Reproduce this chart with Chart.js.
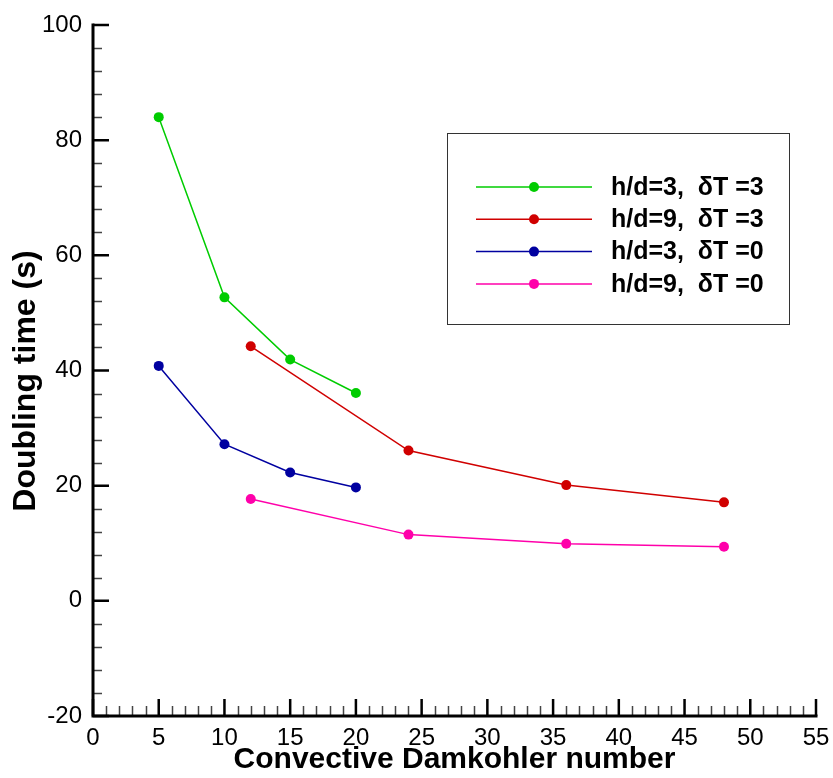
<!DOCTYPE html>
<html lang="en">
<head>
    <meta charset="UTF-8">
    <title>Doubling time vs Convective Damkohler number</title>
    <script src="https://cdn.jsdelivr.net/npm/chart.js"></script>
    <style>
        html, body {
            margin: 0;
            padding: 0;
            background-color: #ffffff;
        }
        #wrap {
            width: 833px;
            height: 778px;
        }
    </style>
</head>
<body>
    <div id="wrap">
        <canvas id="doublingChart" width="833" height="778"></canvas>
    </div>

    <script>
        // values
        const labels = ['h/d=3,  \u03b4T =3', 'h/d=9,  \u03b4T =3', 'h/d=3,  \u03b4T =0', 'h/d=9,  \u03b4T =0'];
        const colors = ['#00cc00', '#d00000', '#0000a0', '#ff00aa'];

        const hd3dT3X = [5, 10, 15, 20];
        const hd3dT3Y = [84.0, 52.7, 41.9, 36.1];
        const hd9dT3X = [12, 24, 36, 48];
        const hd9dT3Y = [44.2, 26.1, 20.1, 17.1];
        const hd3dT0X = [5, 10, 15, 20];
        const hd3dT0Y = [40.8, 27.2, 22.3, 19.7];
        const hd9dT0X = [12, 24, 36, 48];
        const hd9dT0Y = [17.7, 11.5, 9.9, 9.4];

        const xTicks = [0, 5, 10, 15, 20, 25, 30, 35, 40, 45, 50, 55];
        const yTicks = [-20, 0, 20, 40, 60, 80, 100];

        const xs = [hd3dT3X, hd9dT3X, hd3dT0X, hd9dT0X];
        const ys = [hd3dT3Y, hd9dT3Y, hd3dT0Y, hd9dT0Y];

        const datasets = labels.map((label, k) => ({
            label: label,
            data: xs[k].map((x, i) => ({ x: x, y: ys[k][i] })),
            borderColor: colors[k],
            backgroundColor: colors[k],
            pointBackgroundColor: colors[k],
            pointBorderWidth: 0,
            pointRadius: 5,
            borderWidth: 1.5,
            tension: 0,
            fill: false
        }));

        // left/bottom axis lines with inward major + minor ticks
        const axisTicks = {
            id: 'axisTicks',
            afterDraw(chart) {
                const c = chart.ctx;
                const xs = chart.scales.x, ys = chart.scales.y;
                const left = xs.getPixelForValue(xTicks[0]);
                const right = xs.getPixelForValue(xTicks[xTicks.length - 1]);
                const bottom = ys.getPixelForValue(yTicks[0]);
                const top = ys.getPixelForValue(yTicks[yTicks.length - 1]);
                c.save();
                c.lineCap = 'butt';

                // minor ticks
                c.strokeStyle = '#444';
                c.lineWidth = 1.5;
                c.beginPath();
                for (let v = xTicks[0]; v <= xTicks[xTicks.length - 1]; v += 1) {
                    if (v % 5 === 0) continue;
                    const px = Math.round(xs.getPixelForValue(v)) + 0.5;
                    c.moveTo(px, bottom);
                    c.lineTo(px, bottom - 10);
                }
                for (let v = yTicks[0]; v <= yTicks[yTicks.length - 1]; v += 4) {
                    if (v % 20 === 0) continue;
                    const py = Math.round(ys.getPixelForValue(v)) + 0.5;
                    c.moveTo(left, py);
                    c.lineTo(left + 9, py);
                }
                c.stroke();

                // major ticks
                c.strokeStyle = '#000';
                c.lineWidth = 2.5;
                c.beginPath();
                xTicks.forEach(v => {
                    const px = xs.getPixelForValue(v);
                    c.moveTo(px, bottom);
                    c.lineTo(px, bottom - 17);
                });
                yTicks.forEach(v => {
                    const py = ys.getPixelForValue(v);
                    c.moveTo(left, py);
                    c.lineTo(left + 16, py);
                });
                c.stroke();

                // axis lines
                c.lineWidth = 3;
                c.beginPath();
                c.moveTo(left, top - 1.5);
                c.lineTo(left, bottom);
                c.lineTo(right + 1.5, bottom);
                c.stroke();

                // y axis title
                c.translate(26, 381);
                c.rotate(-Math.PI / 2);
                c.fillStyle = '#000';
                c.font = 'bold 32px "Liberation Sans", Arial, sans-serif';
                c.textAlign = 'center';
                c.textBaseline = 'middle';
                c.fillText('Doubling time (s)', 0, 0);
                c.restore();
            }
        };

        // boxed legend inside the plot
        const boxLegend = {
            id: 'boxLegend',
            afterDraw(chart) {
                const c = chart.ctx;
                c.save();
                c.strokeStyle = '#333';
                c.lineWidth = 1;
                c.strokeRect(447.5, 133.5, 342, 191);
                c.font = 'bold 25px "Liberation Sans", Arial, sans-serif';
                c.textBaseline = 'middle';
                c.textAlign = 'left';
                chart.data.datasets.forEach((ds, i) => {
                    const y = 187 + i * 32.3;
                    c.strokeStyle = ds.borderColor;
                    c.lineWidth = 1.5;
                    c.beginPath();
                    c.moveTo(476, y);
                    c.lineTo(592, y);
                    c.stroke();
                    c.fillStyle = ds.borderColor;
                    c.beginPath();
                    c.arc(534, y, 5, 0, Math.PI * 2);
                    c.fill();
                    c.fillStyle = '#000';
                    c.fillText(ds.label, 611, y + 1);
                });
                c.restore();
            }
        };

        const tickFont = { family: '"Liberation Sans", Arial, sans-serif', size: 24 };

        new Chart(document.getElementById('doublingChart'), {
            type: 'line',
            data: { datasets: datasets },
            options: {
                responsive: false,
                animation: false,
                layout: { padding: { left: 0, right: 17, top: 25, bottom: 0 } },
                plugins: {
                    legend: { display: false },
                    tooltip: { enabled: false }
                },
                scales: {
                    x: {
                        type: 'linear',
                        min: xTicks[0],
                        max: xTicks[xTicks.length - 1],
                        afterBuildTicks: s => { s.ticks = xTicks.map(v => ({ value: v })); },
                        afterFit: s => { s.height = 62; s.paddingLeft = 0; s.paddingRight = 0; },
                        ticks: { font: tickFont, color: '#000', padding: 8, maxRotation: 0, autoSkip: false },
                        grid: { display: false, drawTicks: false },
                        border: { display: false },
                        title: {
                            display: true,
                            text: 'Convective Damkohler number',
                            color: '#000',
                            font: { family: '"Liberation Sans", Arial, sans-serif', size: 30, weight: 'bold' },
                            padding: { top: 0, bottom: 0 }
                        }
                    },
                    y: {
                        type: 'linear',
                        min: yTicks[0],
                        max: yTicks[yTicks.length - 1],
                        afterBuildTicks: s => { s.ticks = yTicks.map(v => ({ value: v })); },
                        afterFit: s => { s.width = 93; s.paddingTop = 0; s.paddingBottom = 0; },
                        ticks: { font: tickFont, color: '#000', padding: 11, autoSkip: false },
                        grid: { display: false, drawTicks: false },
                        border: { display: false }
                    }
                }
            },
            plugins: [axisTicks, boxLegend]
        });
    </script>
</body>
</html>
